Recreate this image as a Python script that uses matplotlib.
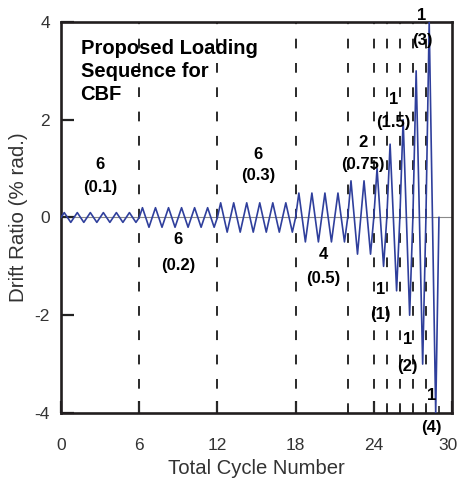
import matplotlib
matplotlib.use('Agg')
import matplotlib.pyplot as plt
import matplotlib.transforms as mtransforms
import numpy as np

# Loading protocol: number of cycles and drift amplitude (% rad.) per step
n_cycles = [6, 6, 6, 4, 2, 1, 1, 1, 1, 1]
amplitudes = [0.1, 0.2, 0.3, 0.5, 0.75, 1, 1.5, 2, 3, 4]
amp_labels = ['0.1', '0.2', '0.3', '0.5', '0.75', '1', '1.5', '2', '3', '4']

# where each step's annotation sits (x, y of the count line, y of the amplitude line)
label_x = [3.0, 9.0, 15.1, 20.1, 23.2, 24.5, 25.5, 26.6, 27.7, 28.4]
label_y1 = [1.08, -0.45, 1.29, -0.75, 1.53, -1.47, 2.41, -2.49, 4.14, -3.65]
label_y2 = [0.61, -0.98, 0.86, -1.24, 1.08, -1.98, 1.94, -3.04, 3.63, -4.29]

x_ticks = [0, 6, 12, 18, 24, 30]
y_ticks = [-4, -2, 0, 2, 4]
y_tick_labels = ['-4', '-2', '0', '2', '4']

# build the cycle history: each cycle goes 0 -> +A -> -A -> 0
xs, ys = [0.0], [0.0]
start = 0
for n, a in zip(n_cycles, amplitudes):
    for k in range(n):
        c = start + k
        xs += [c + 0.25, c + 0.75, c + 1.0]
        ys += [a, -a, 0.0]
    start += n
bounds = np.cumsum(n_cycles)[:-1]

plt.rcParams['font.family'] = ['Liberation Sans', 'DejaVu Sans']

fig = plt.figure(figsize=(4.6, 4.82), dpi=100)
ax = fig.add_axes([0.1326, 0.1432, 0.85, 0.8112])

ax.axhline(0, color='#8a8a8a', lw=0.8, zorder=1)
for b in bounds:
    ax.axvline(b, color='#2a2a2a', lw=1.4, linestyle=(0, (5, 7.5)), zorder=2)
ax.plot(xs, ys, color='#2f3f9c', lw=1.2, zorder=3)

for i in range(len(n_cycles)):
    ax.text(label_x[i], label_y1[i], str(n_cycles[i]), ha='center', va='center',
            fontsize=12, fontweight='bold', zorder=4)
    ax.text(label_x[i], label_y2[i], '(' + amp_labels[i] + ')', ha='center', va='center',
            fontsize=12, fontweight='bold', zorder=4)

ax.text(1.5, 3.65, 'Proposed Loading\nSequence for\nCBF', ha='left', va='top',
        fontsize=14.5, fontweight='bold', linespacing=1.25)

ax.set_xlim(0, 30)
ax.set_ylim(-4, 4)
ax.set_xticks(x_ticks)
ax.set_xticks([22, 25, 26, 27, 28, 29], minor=True)
ax.set_yticks(y_ticks)
ax.set_yticklabels(y_tick_labels)
ax.tick_params(axis='both', which='major', direction='in', length=9, width=1.6,
               labelsize=12.5, colors='#222222')
ax.tick_params(axis='x', which='major', pad=18)
ax.tick_params(axis='y', which='major', pad=8)
ax.tick_params(axis='x', which='minor', direction='in', length=5, width=1.2, color='#222222')
ax.tick_params(axis='both', which='major', labelcolor='#333333')

# nudge the last x label in so it stays inside the figure
last = ax.get_xticklabels()[-1]
last.set_transform(last.get_transform() + mtransforms.ScaledTranslation(-4 / 100, 0, fig.dpi_scale_trans))

for s in ax.spines.values():
    s.set_linewidth(1.9)
    s.set_color('#221e1f')

ax.set_xlabel('Total Cycle Number', fontsize=14.6, color='#333333', labelpad=4)
ax.set_ylabel('Drift Ratio (% rad.)', fontsize=14.8, color='#333333', labelpad=5)

fig.savefig('out.png', dpi=100)
